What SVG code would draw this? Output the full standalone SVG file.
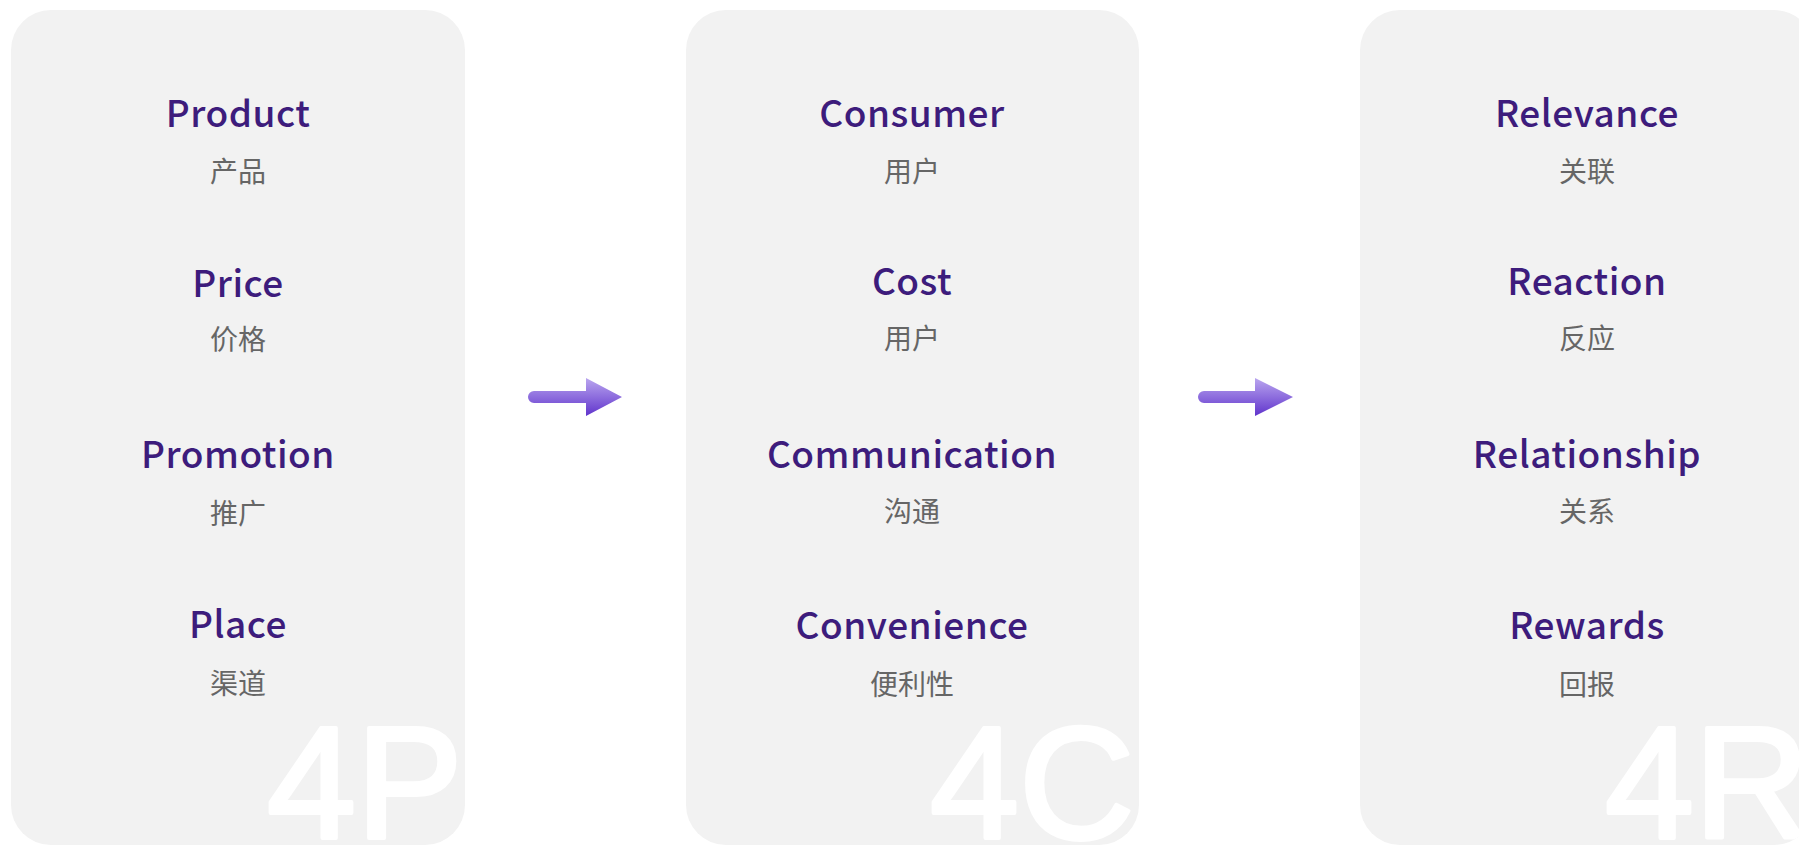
<svg xmlns="http://www.w3.org/2000/svg" width="1799" height="846" viewBox="0 0 1799 846">
  <style>
    .panel { fill: #f2f2f2; }
    .en { font-family: "Noto Sans CJK SC", "Noto Sans", sans-serif; font-size: 37px; letter-spacing: 0.5px; font-weight: 500; fill: #3d1c7c; text-anchor: middle; }
    .zh { font-family: "Noto Sans CJK SC", "Noto Sans", sans-serif; font-size: 28px; font-weight: 400; fill: #666666; text-anchor: middle; }
    .big { font-family: "Liberation Sans", Arial, sans-serif; font-size: 160px; fill: #ffffff; stroke: #ffffff; stroke-width: 4; stroke-linejoin: round; }
  </style>
  <defs>
    <linearGradient id="arrowGrad" x1="0" y1="378" x2="0" y2="416" gradientUnits="userSpaceOnUse">
      <stop offset="0" stop-color="#baa6ef"/>
      <stop offset="1" stop-color="#6034cc"/>
    </linearGradient>
    <clipPath id="clip4P"><rect x="11" y="10" width="454" height="835" rx="40"/></clipPath>
    <clipPath id="clip4C"><rect x="686" y="10" width="453" height="835" rx="40"/></clipPath>
    <clipPath id="clip4R"><rect x="1360" y="10" width="454" height="835" rx="40"/></clipPath>
  </defs>

  <rect width="1799" height="846" fill="#ffffff"/>

  <!-- 4P column -->
  <g id="panel-4p">
    <rect class="panel" x="11" y="10" width="454" height="835" rx="40"/>
    <text class="big" x="267" y="838" clip-path="url(#clip4P)">4P</text>
    <text class="en" x="238" y="127">Product</text>
    <text class="zh" x="238" y="182">产品</text>
    <text class="en" x="238" y="297">Price</text>
    <text class="zh" x="238" y="350">价格</text>
    <text class="en" x="238" y="468">Promotion</text>
    <text class="zh" x="238" y="524">推广</text>
    <text class="en" x="238" y="638">Place</text>
    <text class="zh" x="238" y="694">渠道</text>
  </g>

  <!-- 4C column -->
  <g id="panel-4c">
    <rect class="panel" x="686" y="10" width="453" height="835" rx="40"/>
    <text class="big" x="930" y="838" clip-path="url(#clip4C)">4C</text>
    <text class="en" x="912" y="127">Consumer</text>
    <text class="zh" x="912" y="182">用户</text>
    <text class="en" x="912" y="295">Cost</text>
    <text class="zh" x="912" y="349">用户</text>
    <text class="en" x="912" y="468">Communication</text>
    <text class="zh" x="912" y="522">沟通</text>
    <text class="en" x="912" y="639">Convenience</text>
    <text class="zh" x="912" y="695">便利性</text>
  </g>

  <!-- 4R column -->
  <g id="panel-4r">
    <rect class="panel" x="1360" y="10" width="454" height="835" rx="40"/>
    <text class="big" x="1605" y="838" clip-path="url(#clip4R)">4R</text>
    <text class="en" x="1587" y="127">Relevance</text>
    <text class="zh" x="1587" y="182">关联</text>
    <text class="en" x="1587" y="295">Reaction</text>
    <text class="zh" x="1587" y="349">反应</text>
    <text class="en" x="1587" y="468">Relationship</text>
    <text class="zh" x="1587" y="522">关系</text>
    <text class="en" x="1587" y="639">Rewards</text>
    <text class="zh" x="1587" y="695">回报</text>
  </g>

  <!-- arrows between columns -->
  <g id="connectors" fill="url(#arrowGrad)">
    <path d="M534 391 H586 V378 L622 397 L586 416 V403 H534 A6 6 0 0 1 534 391 Z"/>
    <path d="M1204 391 H1255 V378 L1293 397 L1255 416 V403 H1204 A6 6 0 0 1 1204 391 Z"/>
  </g>
</svg>
